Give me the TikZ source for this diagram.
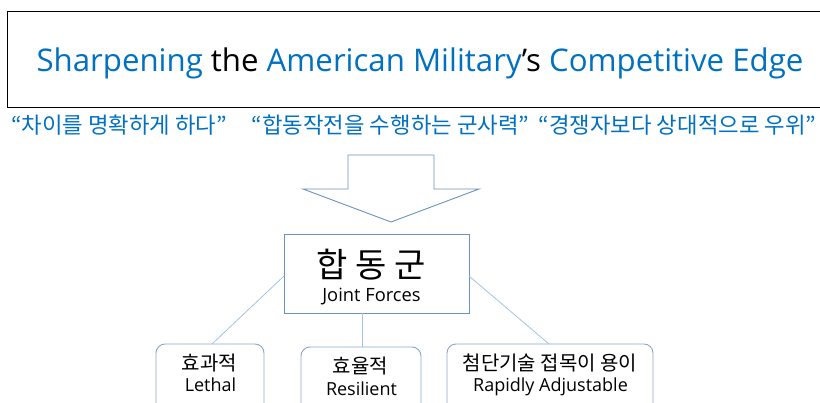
\documentclass[tikz,border=0pt]{standalone}
\usepackage{fontspec}
\setmainfont{Open Sans}
\newfontfamily\kr{Noto Sans CJK KR}
\usetikzlibrary{positioning}
\definecolor{tblue}{RGB}{0,112,192}
\definecolor{edgeblue}{RGB}{110,145,190}
\definecolor{linkblue}{RGB}{160,195,230}
\tikzset{
  outline/.style={draw=edgeblue, line width=0.9pt},
  leafbox/.style={draw=edgeblue!80, line width=0.9pt, rounded corners=9pt, fill=white},
  link/.style={draw=linkblue, line width=0.8pt},
  sub/.style={text=tblue, font=\kr\fontsize{22.3}{25}\selectfont, anchor=base},
  leafkr/.style={font=\kr\fontsize{20}{22}\selectfont, anchor=base},
  leafen/.style={font=\fontsize{18}{20}\selectfont, anchor=base},
}
\begin{document}
\begin{tikzpicture}[x=1pt,y=-1pt]
\useasboundingbox (0,0) rectangle (820,403);
% top frame
\draw[line width=0.9pt] (840,11) -- (7,11) -- (7,107) -- (840,107);
\node[anchor=base, font=\fontsize{31.2}{34}\selectfont] (title) at (420,72)
  {\textcolor{tblue}{Sharpening} the \textcolor{tblue}{American Military}’s \textcolor{tblue}{Competitive Edge}};
\node[sub] (s1) at (119,134) {“차이를 명확하게 하다”};
\node[sub] (s2) at (390.5,134) {“합동작전을 수행하는 군사력”};
\node[sub] (s3) at (677.5,134) {“경쟁자보다 상대적으로 우위”};
% big arrow
\draw[outline, line join=miter] (348,155) -- (434,155) -- (434,189) -- (479,189) -- (391,222) -- (303,189) -- (348,189) -- cycle;
% central box
\node[outline, minimum width=185pt, minimum height=79pt, anchor=north west] (jf) at (284,234) {};
\node[anchor=base, font=\kr\fontsize{34}{36}\selectfont] (jk) at (371,278) {합 동 군};
\node[anchor=base, font=\fontsize{18.3}{20}\selectfont] (je) at (371.5,302) {Joint Forces};
% leaf boxes
\draw[leafbox] (156,420) -- (156,344) -- (264,344) -- (264,420);
\draw[leafbox] (301,420) -- (301,347) -- (421,347) -- (421,420);
\draw[leafbox] (447,420) -- (447,344) -- (653,344) -- (653,420);
\coordinate (l1) at (212,344);
\coordinate (l2) at (362,347);
\coordinate (l3) at (549,344);
\coordinate (jl) at (284,276);
\coordinate (jr) at (469,276);
\coordinate (jb) at (362,313);
\draw[link] (jl) -- (l1);
\draw[link] (jb) -- (l2);
\draw[link] (jr) -- (l3);
\node[leafkr] (a1) at (209.5,371) {효과적};
\node[leafen] (b1) at (210.5,392) {Lethal};
\node[leafkr] (a2) at (360.5,374) {효율적};
\node[leafen] (b2) at (361.5,396) {Resilient};
\node[leafkr] (a3) at (550,371) {첨단기술 접목이 용이};
\node[leafen] (b3) at (550.5,392) {Rapidly Adjustable};
\end{tikzpicture}
\end{document}
